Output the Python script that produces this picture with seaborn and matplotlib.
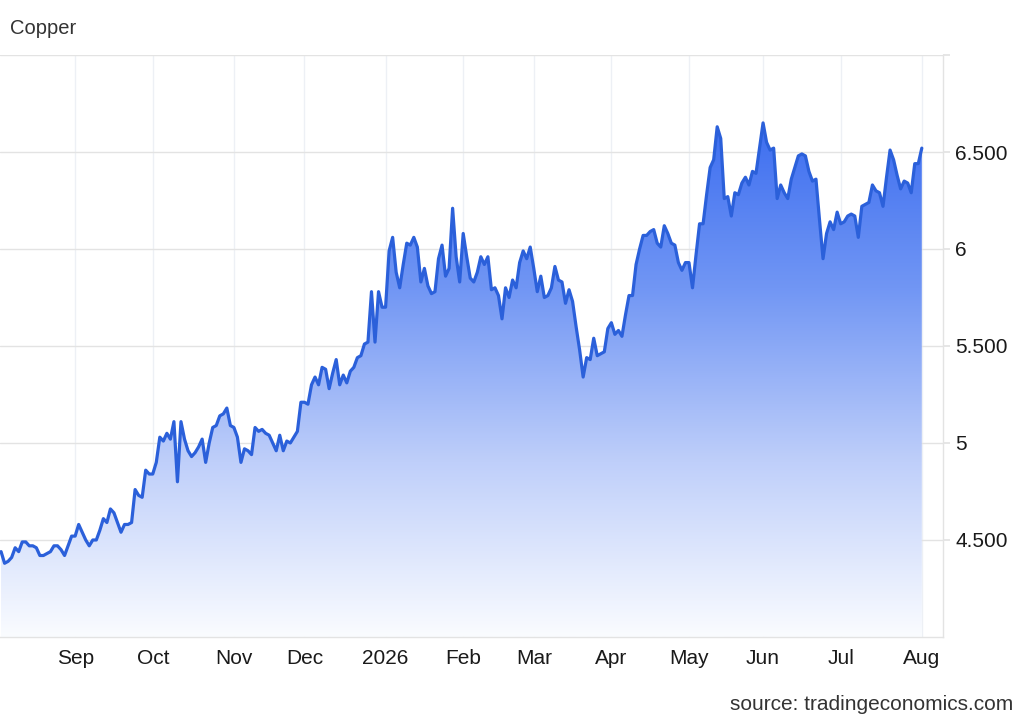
import numpy as np
import pandas as pd
import matplotlib
matplotlib.use("Agg")
import matplotlib.pyplot as plt
import seaborn as sns
from matplotlib.colors import LinearSegmentedColormap

# daily copper price, one value per business day from 2025-08-01
copper = [
    4.44, 4.38, 4.39, 4.41, 4.46, 4.44, 4.49, 4.49, 4.47, 4.47,
    4.46, 4.42, 4.42, 4.43, 4.44, 4.47, 4.47, 4.45, 4.42, 4.47,
    4.52, 4.52, 4.58, 4.54, 4.50, 4.47, 4.50, 4.50, 4.55, 4.61,
    4.59, 4.66, 4.64, 4.59, 4.54, 4.58, 4.58, 4.59, 4.76, 4.73,
    4.72, 4.86, 4.84, 4.84, 4.90, 5.03, 5.01, 5.05, 5.02, 5.11,
    4.80, 5.11, 5.02, 4.96, 4.93, 4.95, 4.98, 5.02, 4.90, 5.00,
    5.08, 5.09, 5.14, 5.15, 5.18, 5.09, 5.08, 5.03, 4.90, 4.97,
    4.96, 4.94, 5.08, 5.06, 5.07, 5.05, 5.04, 5.00, 4.96, 5.04,
    4.96, 5.01, 5.00, 5.03, 5.06, 5.21, 5.21, 5.20, 5.30, 5.34,
    5.30, 5.39, 5.38, 5.28, 5.36, 5.43, 5.30, 5.35, 5.31, 5.37,
    5.39, 5.44, 5.45, 5.51, 5.52, 5.78, 5.52, 5.78, 5.70, 5.70,
    5.99, 6.06, 5.88, 5.80, 5.92, 6.03, 6.02, 6.06, 6.01, 5.83,
    5.90, 5.81, 5.77, 5.78, 5.95, 6.02, 5.86, 5.90, 6.21, 5.96,
    5.83, 6.08, 5.96, 5.85, 5.83, 5.88, 5.96, 5.92, 5.96, 5.79,
    5.80, 5.76, 5.64, 5.80, 5.75, 5.84, 5.80, 5.93, 5.99, 5.95,
    6.01, 5.90, 5.78, 5.86, 5.75, 5.76, 5.80, 5.91, 5.84, 5.83,
    5.72, 5.79, 5.73, 5.60, 5.48, 5.34, 5.44, 5.43, 5.54, 5.45,
    5.46, 5.47, 5.59, 5.62, 5.56, 5.58, 5.55, 5.66, 5.76, 5.76,
    5.92, 6.00, 6.07, 6.07, 6.09, 6.10, 6.03, 6.01, 6.12, 6.08,
    6.03, 6.02, 5.93, 5.89, 5.93, 5.93, 5.80, 5.97, 6.13, 6.13,
    6.28, 6.42, 6.46, 6.63, 6.57, 6.26, 6.27, 6.17, 6.29, 6.28,
    6.34, 6.37, 6.33, 6.40, 6.39, 6.52, 6.65, 6.55, 6.51, 6.52,
    6.26, 6.33, 6.29, 6.26, 6.36, 6.42, 6.48, 6.49, 6.48, 6.40,
    6.35, 6.36, 6.15, 5.95, 6.08, 6.14, 6.10, 6.19, 6.13, 6.14,
    6.17, 6.18, 6.17, 6.06, 6.22, 6.23, 6.24, 6.33, 6.30, 6.29,
    6.22, 6.37, 6.51, 6.46, 6.38, 6.31, 6.35, 6.34, 6.29, 6.44,
    6.44, 6.52,
]
start_day = "2025-08-01"

month_starts = ["2025-09-01", "2025-10-01", "2025-11-01", "2025-12-01",
                "2026-01-01", "2026-02-01", "2026-03-01", "2026-04-01",
                "2026-05-01", "2026-06-01", "2026-07-01", "2026-08-01"]
month_labels = ["Sep", "Oct", "Nov", "Dec", "2026", "Feb", "Mar", "Apr",
                "May", "Jun", "Jul", "Aug"]

y_ticks = [4.5, 5.0, 5.5, 6.0, 6.5, 7.0]
y_labels = ["4.500", "5", "5.500", "6", "6.500", ""]

dates = pd.bdate_range(start_day, periods=len(copper))
df = pd.DataFrame({"day": np.arange(len(copper)), "date": dates, "price": copper})
tick_pos = [dates.searchsorted(pd.Timestamp(m)) for m in month_starts]

sns.set_theme(style="white")
plt.rcParams["font.family"] = ["Liberation Sans", "DejaVu Sans"]

fig = plt.figure(figsize=(10.29, 7.2), dpi=100)
ax = fig.add_axes([0.0, 0.1153, 0.9164, 0.8083])

# gradient area under the line
cmap = LinearSegmentedColormap.from_list("copper_fill", ["#fafcff", "#bfcffa", "#7196f4", "#3a6cf0"])
grad = np.linspace(0, 1, 256).reshape(-1, 1)
im = ax.imshow(grad, extent=[df.day.min(), df.day.max(), 4.0, 6.7], origin="lower",
               aspect="auto", cmap=cmap, zorder=1)
poly = ax.fill_between(df.day, df.price, 4.0, color="none", lw=0)
im.set_clip_path(poly.get_paths()[0], transform=ax.transData)

sns.lineplot(data=df, x="day", y="price", color="#2b60da", linewidth=2.3, ax=ax, zorder=3)

ax.set_xlim(-0.3, 267)
ax.set_ylim(4.0, 7.0)

ax.set_xticks(tick_pos)
ax.set_xticklabels(month_labels)
ax.set_yticks(y_ticks)
ax.set_yticklabels(y_labels)
ax.yaxis.tick_right()

ax.grid(axis="y", color="#e3e3e3", linewidth=1.0, zorder=0)
ax.grid(axis="x", color="#edf0f5", linewidth=1.0, zorder=0)
ax.set_axisbelow(True)

ax.tick_params(axis="x", length=0, pad=9, labelsize=15, labelcolor="#1a1a1a")
ax.tick_params(axis="y", length=5, color="#e3e3e3", pad=4, labelsize=15, labelcolor="#1a1a1a")

for side in ["top", "left"]:
    ax.spines[side].set_visible(False)
for side in ["right", "bottom"]:
    ax.spines[side].set_color("#e3e3e3")
    ax.spines[side].set_linewidth(1.0)

ax.set_xlabel("")
ax.set_ylabel("")

fig.text(10 / 1029, 1 - 28 / 720, "Copper", fontsize=14.5, color="#333333", va="center", ha="left")
fig.text(1013 / 1029, 1 - 705 / 720, "source: tradingeconomics.com", fontsize=15,
         color="#333333", va="center", ha="right")

fig.savefig("out.png", dpi=100, facecolor="white")
